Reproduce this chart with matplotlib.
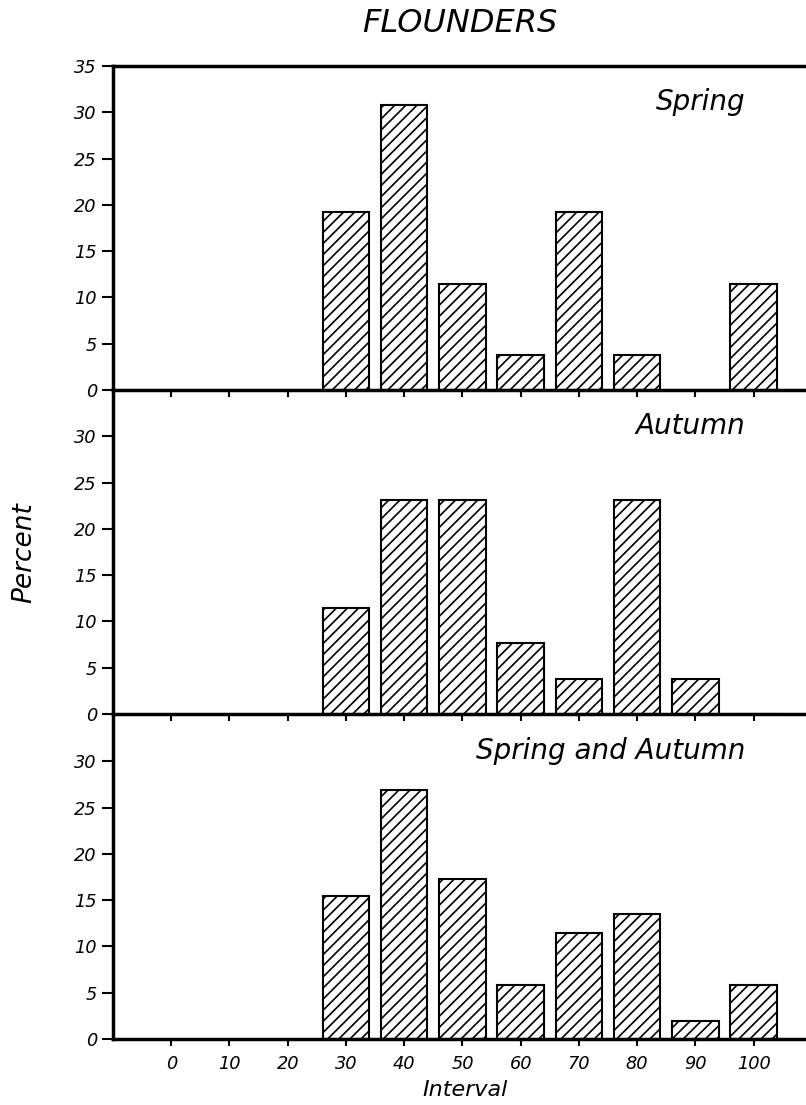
import matplotlib
matplotlib.use("Agg")
import matplotlib.pyplot as plt

# interval classes and percentages
intervals = [30, 40, 50, 60, 70, 80, 90, 100]
spring = [19.2, 30.8, 11.5, 3.8, 19.2, 3.8, 0, 11.5]
autumn = [11.5, 23.1, 23.1, 7.7, 3.8, 23.1, 3.8, 0]
both = [15.4, 26.9, 17.3, 5.8, 11.5, 13.5, 1.9, 5.8]

panel_names = ["Spring", "Autumn", "Spring and Autumn"]
x_ticks = list(range(0, 101, 10))

plt.rcParams['font.family'] = ['DejaVu Sans']
plt.rcParams['font.style'] = 'italic'
plt.rcParams['hatch.linewidth'] = 1.2

fig = plt.figure(figsize=(8.06, 11.05), dpi=100)

left = 113 / 806
width = 1 - left
h = 324 / 1105
bottoms = [1 - 390 / 1105, 1 - 714 / 1105, 1 - 1039 / 1105]

for i, (vals, name) in enumerate(zip([spring, autumn, both], panel_names)):
    ax = fig.add_axes([left, bottoms[i], width, h])
    ax.patch.set_visible(False)  # don't hide the baseline of the panel above
    ax.bar(intervals, vals, width=8, color='white', edgecolor='black',
           linewidth=1.5, hatch='///', zorder=2)
    ax.set_xlim(-10, 109)
    ax.set_ylim(0, 35)

    if i == 0:
        ax.set_yticks(range(0, 36, 5))
    else:
        ax.set_yticks(range(0, 31, 5))
        ax.spines['top'].set_visible(False)
    ax.spines['right'].set_visible(False)
    for s in ['left', 'bottom', 'top']:
        ax.spines[s].set_linewidth(2.5)

    ax.set_xticks(x_ticks)
    ax.tick_params(axis='y', direction='out', length=8, width=1.5,
                   labelsize=12.8, pad=3.6)
    ax.tick_params(axis='x', direction='out', length=5, width=1.5,
                   labelsize=12.8, pad=6.5)
    if i < 2:
        ax.set_xticklabels([])

    ax.text(0.912, 0.889, name, transform=ax.transAxes, ha='right',
            va='center', fontsize=20)

fig.text(460 / 806, 1 - 24 / 1105, 'FLOUNDERS', ha='center', va='center',
         fontsize=23)
fig.text(465 / 806, 1 - 1090 / 1105, 'Interval', ha='center', va='center',
         fontsize=16)
fig.text(24 / 806, 1 - 553 / 1105, 'Percent', ha='center', va='center',
         rotation=90, fontsize=19)

fig.savefig('out.png', dpi=100)
